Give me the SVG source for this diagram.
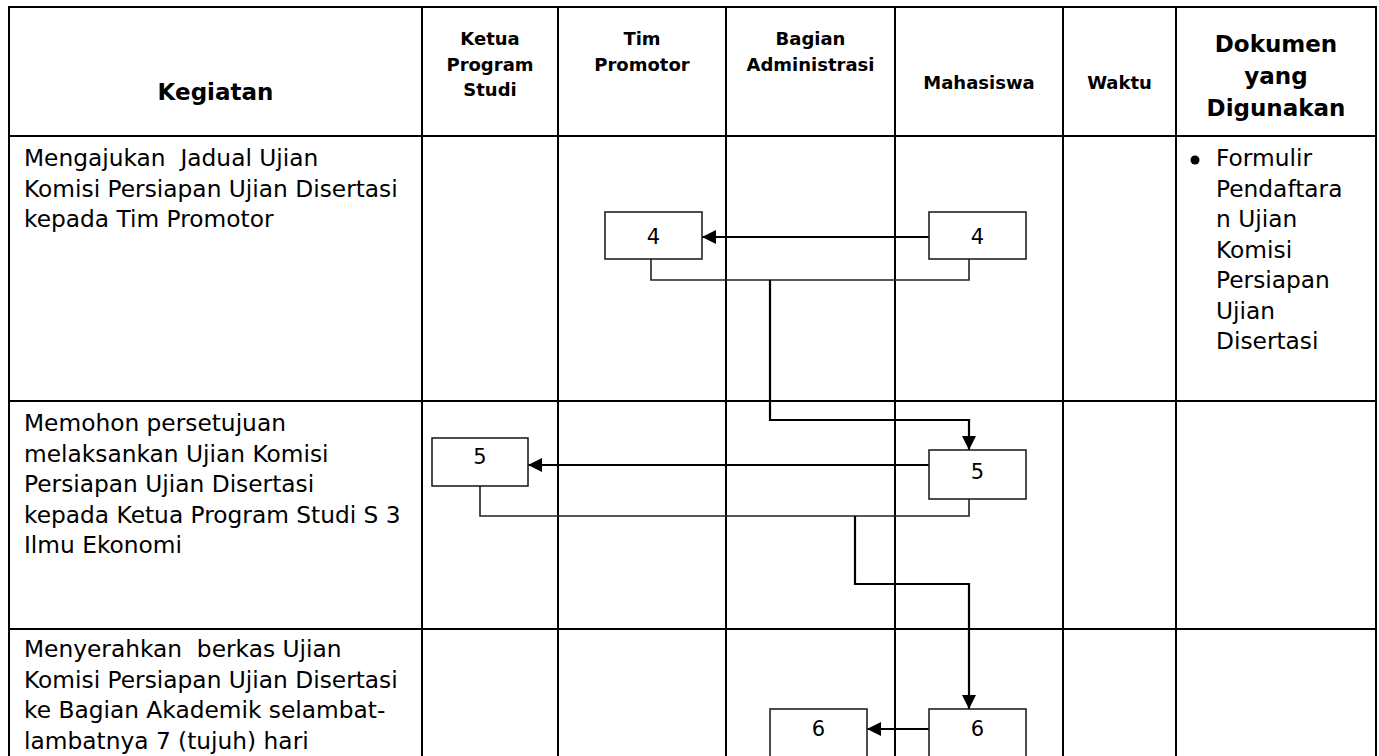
<svg xmlns="http://www.w3.org/2000/svg" width="1379" height="756" viewBox="0 0 1379 756">
<defs>
<style>
.grid{stroke:#000;stroke-width:2;fill:none}
.hb{font-family:"DejaVu Sans",Verdana,sans-serif;font-weight:bold;fill:#000}
.h1{font-size:23px}
.h2{font-size:18px}
.body{font-family:"DejaVu Sans",Verdana,sans-serif;font-size:23.3px;fill:#000}
.box{fill:#fff;stroke:#222;stroke-width:1.6}
.lbl{font-family:"DejaVu Sans",Verdana,sans-serif;font-size:21px;fill:#000;text-anchor:middle}
.con{fill:none;stroke:#222;stroke-width:1.6}
.arr{fill:none;stroke:#000;stroke-width:2.2}
</style>
<marker id="ah" markerUnits="userSpaceOnUse" markerWidth="14" markerHeight="14" refX="14" refY="7" orient="auto">
<path d="M0,0 L14,7 L0,14 z" fill="#000"/>
</marker>
</defs>
<rect x="0" y="0" width="1379" height="756" fill="#fff"/>
<g id="table">
<path class="grid" d="M9,760 V7 H1376 V760 M9,136 H1376 M9,401 H1376 M9,629 H1376 M422,7 V760 M558,7 V760 M726,7 V760 M895,7 V760 M1063,7 V760 M1176,7 V760"/>
</g>
<g id="headers" class="hb">
<text class="h1" x="215.5" y="100" text-anchor="middle">Kegiatan</text>
<text class="h2" x="490" text-anchor="middle"><tspan x="490" y="45">Ketua</tspan><tspan x="490" y="70.5">Program</tspan><tspan x="490" y="96">Studi</tspan></text>
<text class="h2" x="642" text-anchor="middle"><tspan x="642" y="45">Tim</tspan><tspan x="642" y="70.5">Promotor</tspan></text>
<text class="h2" x="810.5" text-anchor="middle"><tspan x="810.5" y="45">Bagian</tspan><tspan x="810.5" y="70.5">Administrasi</tspan></text>
<text class="h2" x="979" y="89" text-anchor="middle">Mahasiswa</text>
<text class="h2" x="1119.5" y="89" text-anchor="middle">Waktu</text>
<text class="h1" x="1276" text-anchor="middle"><tspan x="1276" y="52">Dokumen</tspan><tspan x="1276" y="84">yang</tspan><tspan x="1276" y="116">Digunakan</tspan></text>
</g>
<g id="kegiatan1" class="body">
<text xml:space="preserve"><tspan x="24" y="166">Mengajukan  Jadual Ujian</tspan><tspan x="24" y="196.5">Komisi Persiapan Ujian Disertasi</tspan><tspan x="24" y="227">kepada Tim Promotor</tspan></text>
</g>
<g id="kegiatan2" class="body">
<text><tspan x="24" y="431">Memohon persetujuan</tspan><tspan x="24" y="461.5">melaksankan Ujian Komisi</tspan><tspan x="24" y="492">Persiapan Ujian Disertasi</tspan><tspan x="24" y="522.5">kepada Ketua Program Studi S 3</tspan><tspan x="24" y="553">Ilmu Ekonomi</tspan></text>
</g>
<g id="kegiatan3" class="body">
<text xml:space="preserve"><tspan x="24" y="657">Menyerahkan  berkas Ujian</tspan><tspan x="24" y="687.5">Komisi Persiapan Ujian Disertasi</tspan><tspan x="24" y="718">ke Bagian Akademik selambat-</tspan><tspan x="24" y="748.5">lambatnya 7 (tujuh) hari</tspan></text>
</g>
<g id="dokumen1" class="body">
<circle cx="1195" cy="160" r="4.5" fill="#000"/>
<text><tspan x="1216" y="166">Formulir</tspan><tspan x="1216" y="196.5">Pendaftara</tspan><tspan x="1216" y="227">n Ujian</tspan><tspan x="1216" y="257.5">Komisi</tspan><tspan x="1216" y="288">Persiapan</tspan><tspan x="1216" y="318.5">Ujian</tspan><tspan x="1216" y="349">Disertasi</tspan></text>
</g>
<g id="connectors">
<path class="con" d="M651,259 V280 H969 V259"/>
<path class="arr" d="M770,280 V420 H969 V450" marker-end="url(#ah)"/>
<path class="arr" d="M929,237 H702" marker-end="url(#ah)"/>
<path class="con" d="M480,486 V516 H969 V499"/>
<path class="arr" d="M929,465 H528" marker-end="url(#ah)"/>
<path class="arr" d="M855,516 V584 H969 V709" marker-end="url(#ah)"/>
<path class="arr" d="M929,729 H867" marker-end="url(#ah)"/>
</g>
<g id="node-4-promotor"><rect class="box" x="605" y="212" width="97" height="47"/><text class="lbl" x="653.5" y="244">4</text></g>
<g id="node-4-mahasiswa"><rect class="box" x="929" y="212" width="97" height="47"/><text class="lbl" x="977.5" y="244">4</text></g>
<g id="node-5-ketua"><rect class="box" x="432" y="438" width="96" height="48"/><text class="lbl" x="480" y="464">5</text></g>
<g id="node-5-mahasiswa"><rect class="box" x="929" y="450" width="97" height="49"/><text class="lbl" x="977.5" y="479">5</text></g>
<g id="node-6-administrasi"><rect class="box" x="770" y="709" width="97" height="60"/><text class="lbl" x="818.5" y="736">6</text></g>
<g id="node-6-mahasiswa"><rect class="box" x="929" y="709" width="97" height="60"/><text class="lbl" x="977.5" y="736">6</text></g>
</svg>
